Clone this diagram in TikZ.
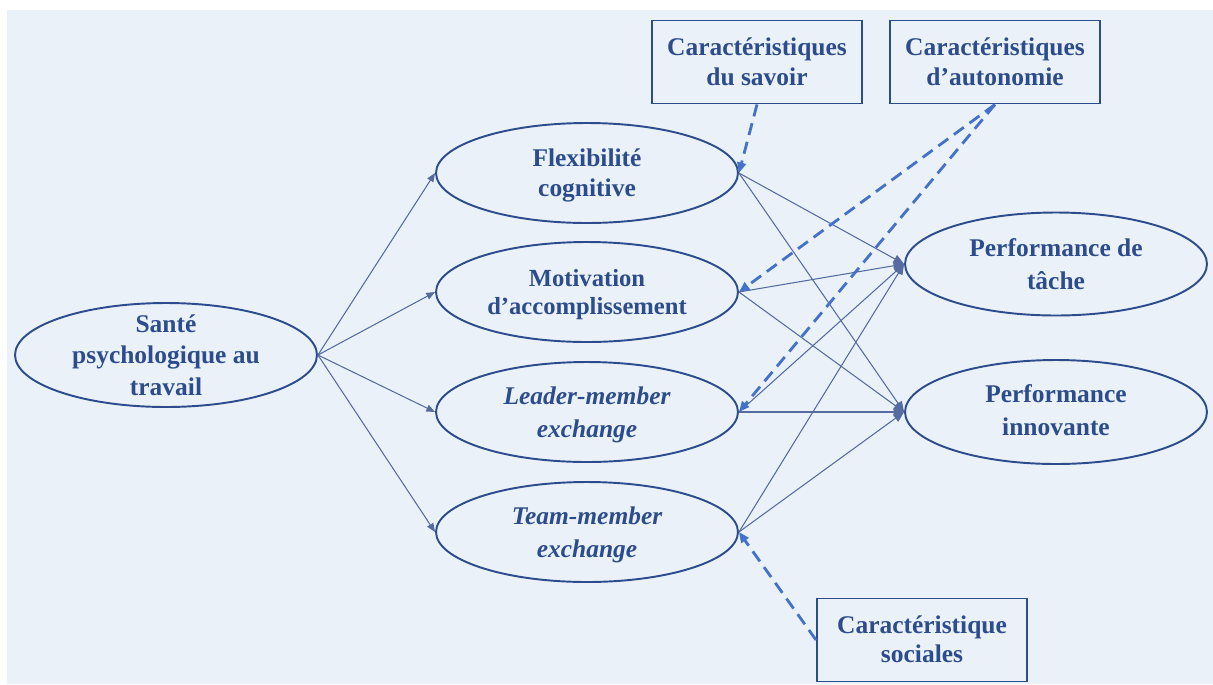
\documentclass[tikz,border=0pt]{standalone}
\usepackage{fontspec}
\setmainfont{Liberation Serif}
\usepackage{xcolor}
\usepackage{tikz}
\usetikzlibrary{arrows.meta,shapes.geometric}
\definecolor{paleblue}{RGB}{234,241,249}
\definecolor{inkblue}{RGB}{45,76,140}
\definecolor{linkblue}{RGB}{86,108,160}
\definecolor{dashblue}{RGB}{68,114,200}

\begin{document}
\begin{tikzpicture}[
  x=0.02cm, y=-0.02cm,
  font=\fontsize{14.5}{17}\selectfont\bfseries, text=inkblue,
  oval/.style={draw=inkblue, line width=1.1pt, ellipse, align=center, inner sep=0pt,
    minimum width=6.04cm, minimum height=2cm},
  box/.style={draw=inkblue, line width=1.1pt, align=center,
    minimum width=4.2cm, minimum height=1.66cm},
  arr/.style={-{Triangle[length=5pt,width=4pt]}, line width=0.6pt, draw=linkblue},
  bigarr/.style={-{Triangle[length=6pt,width=5pt]}, line width=0.6pt, draw=linkblue},
  modarr/.style={-{Triangle[length=6pt,width=5pt]}, line width=1.6pt, draw=dashblue,
    dash pattern=on 7pt off 4pt}
]
\useasboundingbox (0,0) rectangle (1213,684);
\fill[paleblue] (7,10) rectangle (1213,684);

\node[oval, minimum height=2.08cm, inner ysep=-8pt] (sante) at (166,355)
  {Santé\\[1pt]psychologique au\\[1pt]travail};
\node[oval, text depth=-1.4pt] (flex) at (587,173) {Flexibilité\\cognitive};
\node[oval, text depth=-0.7pt, font=\fontsize{14}{15.5}\selectfont\bfseries] (motiv) at (587,292)
  {Motivation\\d’accomplissement};
\node[oval, text depth=-0.7pt, font=\fontsize{14.5}{17}\selectfont\bfseries\itshape] (lmx) at (587,412)
  {Leader-member\\[2pt]exchange};
\node[oval, text depth=-0.2pt, font=\fontsize{14.5}{17}\selectfont\bfseries\itshape] (tmx) at (587,532)
  {Team-member\\[1.5pt]exchange};
\node[oval, minimum height=2.06cm] (tache) at (1056,264) {Performance de\\[1.5pt]tâche};
\node[oval, minimum height=2.08cm, text depth=2.1pt] (innov) at (1056,412) {Performance\\[2pt]innovante};

\node[box, text depth=0.4pt] (savoir) at (757,62) {Caractéristiques\\du savoir};
\node[box, text depth=0.4pt] (autonom) at (995,62) {Caractéristiques\\d’autonomie};
\node[box, text depth=1pt] (social) at (922,640) {Caractéristique\\sociales};

% santé vers médiateurs
\foreach \m in {flex,motiv,lmx,tmx}
  \draw[arr] (sante.east) -- (\m.west);

% médiateurs vers performances
\foreach \m in {flex,motiv,lmx,tmx}{
  \draw[bigarr] (\m.east) -- (tache.west);
  \draw[bigarr] (\m.east) -- (innov.west);
}

% modérateurs
\draw[modarr] (savoir.south) -- (flex.east);
\draw[modarr] (autonom.south) -- (motiv.east);
\draw[modarr] (autonom.south) -- (lmx.east);
\draw[modarr] (social.west) -- (tmx.east);
\end{tikzpicture}
\end{document}
